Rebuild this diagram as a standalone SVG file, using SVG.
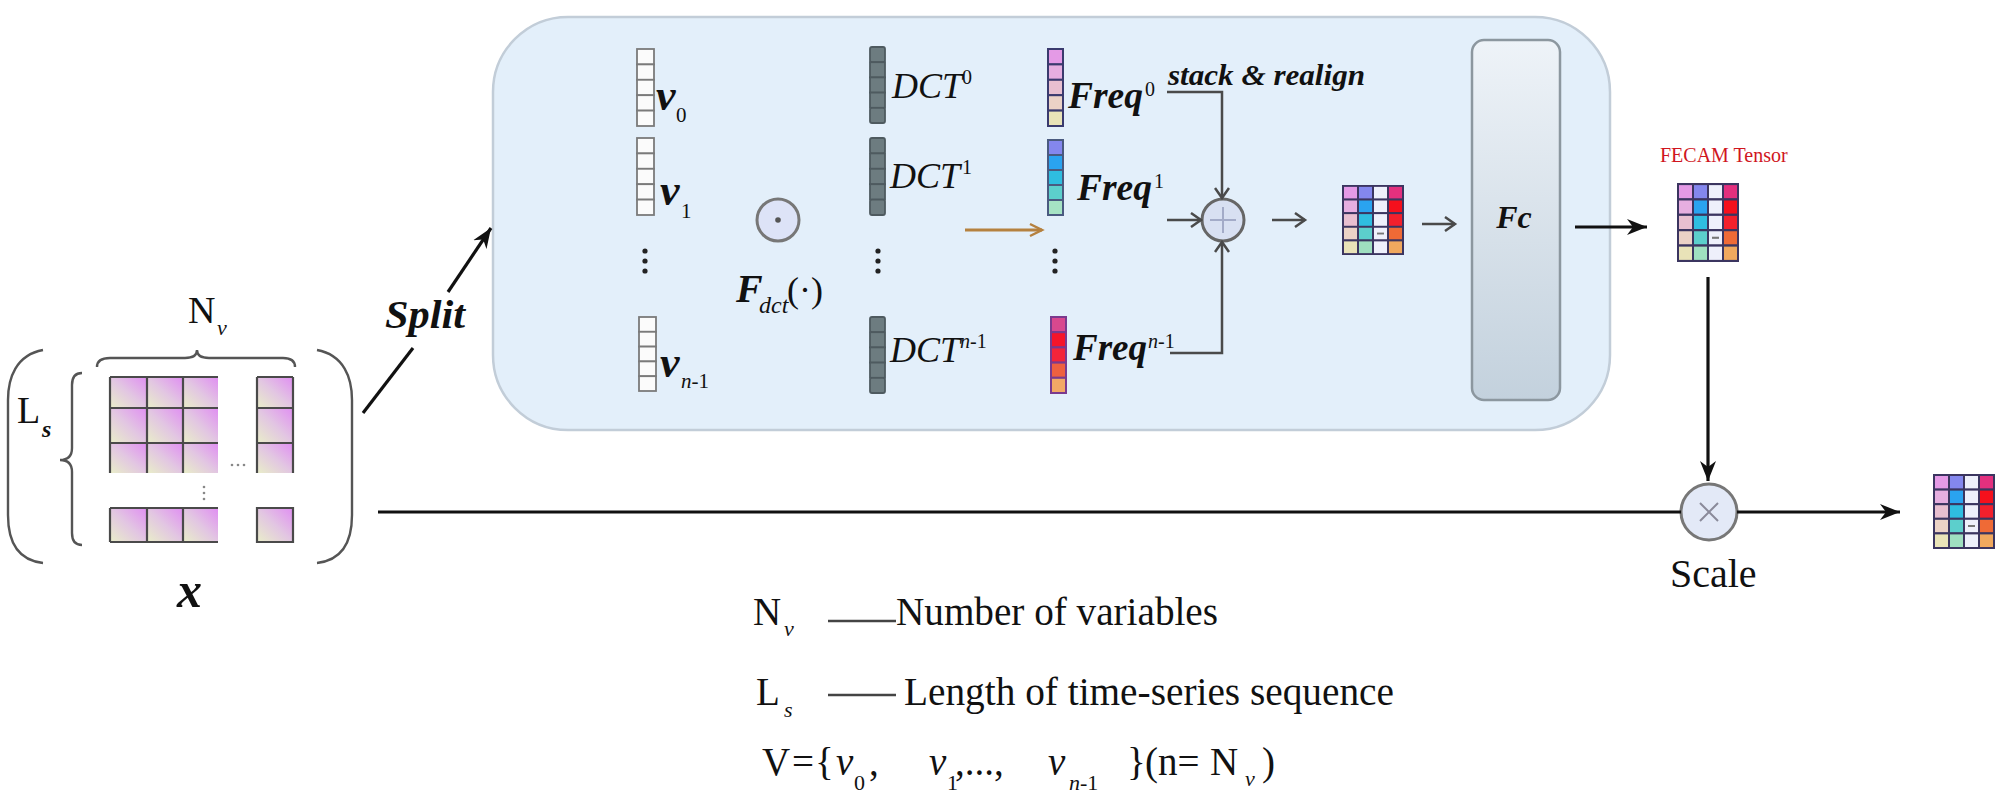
<svg xmlns="http://www.w3.org/2000/svg" width="2000" height="799" viewBox="0 0 2000 799">
<style>
text{font-family:"Liberation Serif","Times New Roman",serif;fill:#111}
.bi{font-style:italic;font-weight:bold}
.it{font-style:italic}
.gl{fill:none;stroke:#4a4a4a;stroke-width:2.2}
.br{fill:none;stroke:#555;stroke-width:2.4}
.conn{fill:none;stroke:#4a4a4a;stroke-width:2.5}
.blk{fill:none;stroke:#111;stroke-width:3.2}
.vcell{fill:#fbfbfb;stroke:#7a7a7a;stroke-width:1.8}
.dcell{fill:#6d7c80;stroke:#4e5a5f;stroke-width:1.8}
</style>
<defs>
<linearGradient id="cellg" x1="0" y1="1" x2="1" y2="0">
<stop offset="0" stop-color="#e9eec9"/>
<stop offset="0.5" stop-color="#e2c6e2"/>
<stop offset="1" stop-color="#e08ef2"/>
</linearGradient>
<linearGradient id="fcg" x1="0" y1="0" x2="0" y2="1">
<stop offset="0" stop-color="#eef3f8"/>
<stop offset="1" stop-color="#c3d1dd"/>
</linearGradient>
<marker id="open" markerWidth="14" markerHeight="16" refX="11" refY="8" orient="auto" markerUnits="userSpaceOnUse">
<path d="M1,1 L11,8 L1,15" fill="none" stroke="#4a4a4a" stroke-width="2.5"/>
</marker>
<marker id="orange" markerWidth="16" markerHeight="16" refX="13" refY="8" orient="auto" markerUnits="userSpaceOnUse">
<path d="M1,2 L13,8 L1,14" fill="none" stroke="#b5813f" stroke-width="2.5"/>
</marker>
<marker id="solid" markerWidth="22" markerHeight="18" refX="20" refY="9" orient="auto" markerUnits="userSpaceOnUse">
<path d="M0,1 L20,9 L0,17 L6,9 z" fill="#111"/>
</marker>
<symbol id="mat" viewBox="0 0 62 75" preserveAspectRatio="none">
<g stroke="#3b3560" stroke-width="2">
<rect x="1" y="1" width="15" height="14.6" fill="#e49ae6"/>
<rect x="1" y="15.6" width="15" height="14.6" fill="#e6aee0"/>
<rect x="1" y="30.2" width="15" height="14.6" fill="#e8bfd0"/>
<rect x="1" y="44.8" width="15" height="14.6" fill="#ebd2c6"/>
<rect x="1" y="59.4" width="15" height="14.6" fill="#e9e3b8"/>
<rect x="16" y="1" width="15" height="14.6" fill="#8487ee"/>
<rect x="16" y="15.6" width="15" height="14.6" fill="#2aa3f0"/>
<rect x="16" y="30.2" width="15" height="14.6" fill="#2fbde0"/>
<rect x="16" y="44.8" width="15" height="14.6" fill="#5ccfcc"/>
<rect x="16" y="59.4" width="15" height="14.6" fill="#9fdfc0"/>
<rect x="31" y="1" width="15" height="14.6" fill="#eef0fb"/>
<rect x="31" y="15.6" width="15" height="14.6" fill="#eef0fb"/>
<rect x="31" y="30.2" width="15" height="14.6" fill="#eef0fb"/>
<rect x="31" y="44.8" width="15" height="14.6" fill="#eef0fb"/>
<rect x="31" y="59.4" width="15" height="14.6" fill="#eef0fb"/>
<rect x="46" y="1" width="15" height="14.6" fill="#e3307e"/>
<rect x="46" y="15.6" width="15" height="14.6" fill="#f5101c"/>
<rect x="46" y="30.2" width="15" height="14.6" fill="#f3202c"/>
<rect x="46" y="44.8" width="15" height="14.6" fill="#ef6a36"/>
<rect x="46" y="59.4" width="15" height="14.6" fill="#f0a85e"/>
</g>
<rect x="35" y="51" width="7" height="2" fill="#777"/>
</symbol>
</defs>

<rect width="2000" height="799" fill="#fff"/>

<g id="module-box">
<rect x="493" y="17" width="1117" height="413" rx="75" fill="#e3effa" stroke="#c2cdd8" stroke-width="2.5"/>
</g>

<g id="input-x">
<path class="br" d="M43,350 C16,355 8,378 8,400 L8,515 C8,540 16,560 43,563"/>
<path class="br" d="M317,350 C344,355 352,378 352,400 L352,515 C352,540 344,560 317,563"/>
<path class="br" d="M97,367 Q97,358 110,358 L185,358 Q197,358 197,350 Q197,358 209,358 L283,358 Q295,358 295,367"/>
<path class="br" d="M82,373 Q72,373 72,385 L72,448 Q72,460 60,460 Q72,460 72,472 L72,533 Q72,545 82,545"/>
<g fill="url(#cellg)">
<rect x="110" y="377" width="37" height="31"/><rect x="147" y="377" width="36" height="31"/><rect x="183" y="377" width="35" height="31"/>
<rect x="110" y="408" width="37" height="35"/><rect x="147" y="408" width="36" height="35"/><rect x="183" y="408" width="35" height="35"/>
<rect x="110" y="443" width="37" height="30"/><rect x="147" y="443" width="36" height="30"/><rect x="183" y="443" width="35" height="30"/>
<rect x="257" y="377" width="36" height="31"/><rect x="257" y="408" width="36" height="35"/><rect x="257" y="443" width="36" height="30"/>
<rect x="110" y="508" width="37" height="34"/><rect x="147" y="508" width="36" height="34"/><rect x="183" y="508" width="35" height="34"/>
<rect x="257" y="508" width="36" height="34"/>
</g>
<path class="gl" d="M110,377 H218 M110,408 H218 M110,443 H218 M110,377 V473 M147,377 V473 M183,377 V473 M257,377 H293 M257,408 H293 M257,443 H293 M257,377 V473 M293,377 V473 M110,508 H218 M110,542 H218 M110,508 V542 M147,508 V542 M183,508 V542 M257,508 H293 V542 H257 Z"/>
<g fill="#888"><circle cx="232" cy="465" r="1.3"/><circle cx="238" cy="465" r="1.3"/><circle cx="244" cy="465" r="1.3"/>
<circle cx="204" cy="487" r="1.3"/><circle cx="204" cy="493" r="1.3"/><circle cx="204" cy="499" r="1.3"/></g>
<text x="188" y="323" font-size="38">N</text>
<text x="217" y="335" font-size="22" class="it">v</text>
<text x="17" y="423" font-size="38">L</text>
<text x="42" y="437" font-size="24" class="bi">s</text>
<text x="177" y="607" font-size="50" class="bi">x</text>
</g>

<g id="v-vectors">
<g id="v0">
<rect class="vcell" x="637" y="49" width="17" height="15.4"/><rect class="vcell" x="637" y="64.4" width="17" height="15.4"/><rect class="vcell" x="637" y="79.8" width="17" height="15.4"/><rect class="vcell" x="637" y="95.2" width="17" height="15.4"/><rect class="vcell" x="637" y="110.6" width="17" height="15.4"/>
<text x="656" y="110" font-size="44" class="bi">v</text><text x="676" y="122" font-size="21">0</text>
</g>
<g id="v1">
<rect class="vcell" x="637" y="138" width="17" height="15.4"/><rect class="vcell" x="637" y="153.4" width="17" height="15.4"/><rect class="vcell" x="637" y="168.8" width="17" height="15.4"/><rect class="vcell" x="637" y="184.2" width="17" height="15.4"/><rect class="vcell" x="637" y="199.6" width="17" height="15.4"/>
<text x="660" y="205" font-size="44" class="bi">v</text><text x="681" y="218" font-size="21">1</text>
</g>
<g fill="#222"><circle cx="645" cy="251" r="2.6"/><circle cx="645" cy="261" r="2.6"/><circle cx="645" cy="271" r="2.6"/></g>
<g id="vn1">
<rect class="vcell" x="639" y="317" width="17" height="14.8"/><rect class="vcell" x="639" y="331.8" width="17" height="14.8"/><rect class="vcell" x="639" y="346.6" width="17" height="14.8"/><rect class="vcell" x="639" y="361.4" width="17" height="14.8"/><rect class="vcell" x="639" y="376.2" width="17" height="14.8"/>
<text x="660" y="377" font-size="44" class="bi">v</text><text x="681" y="388" font-size="21"><tspan class="it">n</tspan>-1</text>
</g>
</g>

<g id="fdct-op">
<circle cx="778" cy="220" r="21" fill="#dde3f7" stroke="#777" stroke-width="3"/>
<circle cx="778" cy="220" r="2.8" fill="#555"/>
<text x="736" y="302" font-size="40" class="bi">F</text>
<text x="759" y="313" font-size="24" class="it">dct</text>
<text x="787" y="302" font-size="36">(·)</text>
</g>

<g id="dct-bases">
<g id="dct0">
<rect class="dcell" x="870" y="47" width="15" height="15.2" rx="2"/><rect class="dcell" x="870" y="62.2" width="15" height="15.2"/><rect class="dcell" x="870" y="77.4" width="15" height="15.2"/><rect class="dcell" x="870" y="92.6" width="15" height="15.2"/><rect class="dcell" x="870" y="107.8" width="15" height="15.2" rx="2"/>
<text x="892" y="98" font-size="36" class="it">DCT</text><text x="962" y="84" font-size="20">0</text>
</g>
<g id="dct1">
<rect class="dcell" x="870" y="138" width="15" height="15.4" rx="2"/><rect class="dcell" x="870" y="153.4" width="15" height="15.4"/><rect class="dcell" x="870" y="168.8" width="15" height="15.4"/><rect class="dcell" x="870" y="184.2" width="15" height="15.4"/><rect class="dcell" x="870" y="199.6" width="15" height="15.4" rx="2"/>
<text x="890" y="188" font-size="36" class="it">DCT</text><text x="962" y="174" font-size="20">1</text>
</g>
<g fill="#222"><circle cx="878" cy="251" r="2.6"/><circle cx="878" cy="261" r="2.6"/><circle cx="878" cy="271" r="2.6"/></g>
<g id="dctn1">
<rect class="dcell" x="870" y="317" width="15" height="15.2" rx="2"/><rect class="dcell" x="870" y="332.2" width="15" height="15.2"/><rect class="dcell" x="870" y="347.4" width="15" height="15.2"/><rect class="dcell" x="870" y="362.6" width="15" height="15.2"/><rect class="dcell" x="870" y="377.8" width="15" height="15.2" rx="2"/>
<text x="890" y="362" font-size="36" class="it">DCT</text><text x="960" y="348" font-size="20"><tspan class="it">n</tspan>-1</text>
</g>
</g>

<g id="freq-vectors">
<g id="freq0" stroke="#3a3a6e" stroke-width="2">
<rect x="1048" y="49" width="15" height="15.4" fill="#e49ae6"/><rect x="1048" y="64.4" width="15" height="15.4" fill="#e6aee0"/><rect x="1048" y="79.8" width="15" height="15.4" fill="#e8bfd0"/><rect x="1048" y="95.2" width="15" height="15.4" fill="#ebd2c6"/><rect x="1048" y="110.6" width="15" height="15.4" fill="#e9e3b8"/>
</g>
<text x="1068" y="108" font-size="37" class="bi" textLength="75" lengthAdjust="spacingAndGlyphs">Freq</text><text x="1145" y="96" font-size="20">0</text>
<g id="freq1" stroke="#4a5a80" stroke-width="2">
<rect x="1048" y="140" width="15" height="15" fill="#8487ee"/><rect x="1048" y="155" width="15" height="15" fill="#2aa3f0"/><rect x="1048" y="170" width="15" height="15" fill="#2fbde0"/><rect x="1048" y="185" width="15" height="15" fill="#5ccfcc"/><rect x="1048" y="200" width="15" height="15" fill="#a6e3c4"/>
</g>
<text x="1077" y="200" font-size="37" class="bi" textLength="75" lengthAdjust="spacingAndGlyphs">Freq</text><text x="1154" y="188" font-size="20">1</text>
<g fill="#222"><circle cx="1055" cy="251" r="2.6"/><circle cx="1055" cy="261" r="2.6"/><circle cx="1055" cy="271" r="2.6"/></g>
<g id="freqn1" stroke="#7a3a8e" stroke-width="2">
<rect x="1051" y="317" width="15" height="15.2" fill="#d8488e"/><rect x="1051" y="332.2" width="15" height="15.2" fill="#f5152a"/><rect x="1051" y="347.4" width="15" height="15.2" fill="#f3243a"/><rect x="1051" y="362.6" width="15" height="15.2" fill="#ee6040"/><rect x="1051" y="377.8" width="15" height="15.2" fill="#f2a866"/>
</g>
<text x="1073" y="360" font-size="37" class="bi" textLength="74" lengthAdjust="spacingAndGlyphs">Freq</text><text x="1148" y="348" font-size="20"><tspan class="it">n</tspan>-1</text>
<text x="1168" y="85" font-size="30" class="bi" textLength="197" lengthAdjust="spacingAndGlyphs">stack &amp; realign</text>
</g>

<g id="sum-op">
<circle cx="1223" cy="220" r="21" fill="#d8e0f2" stroke="#666" stroke-width="3"/>
<path d="M1210,220 H1236 M1223,207 V233" stroke="#a3abc8" stroke-width="2"/>
</g>

<g id="stacked-matrix"><use href="#mat" x="1342" y="185" width="62" height="70"/></g>

<g id="fc">
<rect x="1472" y="40" width="88" height="360" rx="12" fill="url(#fcg)" stroke="#8c979f" stroke-width="2.5"/>
<text x="1514" y="228" font-size="32" class="bi" text-anchor="middle">Fc</text>
</g>

<g id="fecam-tensor">
<text x="1660" y="162" font-size="20" style="fill:#d0161e">FECAM Tensor</text>
<use href="#mat" x="1677" y="183" width="62" height="79"/>
</g>

<g id="scale-op">
<circle cx="1709" cy="512" r="28" fill="#e3e9f7" stroke="#777" stroke-width="3"/>
<path d="M1700,503 L1718,521 M1718,503 L1700,521" stroke="#8a8a9a" stroke-width="2"/>
<text x="1670" y="587" font-size="40">Scale</text>
</g>

<g id="output"><use href="#mat" x="1933" y="474" width="62" height="75"/></g>

<g id="split-label">
<text x="385" y="328" font-size="40" class="bi" textLength="80" lengthAdjust="spacingAndGlyphs">Split</text>
</g>

<g id="connectors">
<path class="blk" d="M363,413 L413,348" stroke-width="3"/>
<path class="blk" d="M448,292 L491,228" stroke-width="3" marker-end="url(#solid)"/>
<path d="M965,230 H1042" fill="none" stroke="#b5813f" stroke-width="3" marker-end="url(#orange)"/>
<path class="conn" d="M1167,92 H1222 V198" marker-end="url(#open)"/>
<path class="conn" d="M1167,220 H1201" marker-end="url(#open)"/>
<path class="conn" d="M1170,353 H1222 V242" marker-end="url(#open)"/>
<path class="conn" d="M1272,220 H1305" marker-end="url(#open)"/>
<path class="conn" d="M1422,224 H1455" marker-end="url(#open)"/>
<path class="blk" d="M1575,227 H1647" stroke-width="3.5" marker-end="url(#solid)"/>
<path class="blk" d="M1708,277 V481" marker-end="url(#solid)"/>
<path class="blk" d="M378,512 H1681"/>
<path class="blk" d="M1737,512 H1900" marker-end="url(#solid)"/>
</g>

<g id="legend">
<text x="753" y="625" font-size="39">N</text><text x="784" y="636" font-size="22" class="it">v</text>
<path d="M828,621 H896" stroke="#444" stroke-width="2.5"/>
<text x="896" y="625" font-size="39" textLength="322" lengthAdjust="spacingAndGlyphs">Number of variables</text>
<text x="756" y="705" font-size="39">L</text><text x="784" y="717" font-size="22" class="it">s</text>
<path d="M828,695 H896" stroke="#444" stroke-width="2.5"/>
<text x="904" y="705" font-size="39" textLength="490" lengthAdjust="spacingAndGlyphs">Length of time-series sequence</text>
<text y="775" font-size="39"><tspan x="762">V</tspan><tspan x="792">=</tspan><tspan x="815">{</tspan><tspan x="836" class="it">v</tspan><tspan x="854" y="790" font-size="22">0</tspan><tspan x="869" y="775">,</tspan><tspan x="929" class="it">v</tspan><tspan x="947" y="790" font-size="22">1</tspan><tspan x="955" y="775">,...,</tspan><tspan x="1048" class="it">v</tspan><tspan x="1069" y="790" font-size="22" class="it">n</tspan><tspan font-size="22" y="790">-1</tspan><tspan x="1127" y="775">}</tspan><tspan x="1145">(n=</tspan><tspan x="1210">N</tspan><tspan x="1245" y="786" font-size="22" class="it">v</tspan><tspan x="1262" y="775">)</tspan></text>
</g>
</svg>
